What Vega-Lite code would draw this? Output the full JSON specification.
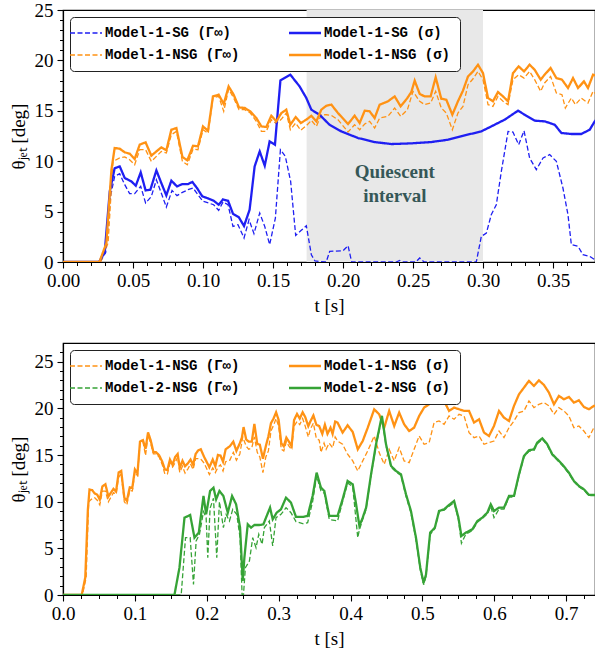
{
"$schema": "https://vega.github.io/schema/vega-lite/v6.json",
"background": "white",
"padding": {"left": 8, "top": 0, "right": 0, "bottom": 0},
"spacing": 26,
"config": {
  "view": {"stroke": "black", "strokeWidth": 1.2},
  "legend": {"labelFont": "Liberation Mono", "labelFontSize": 14, "labelFontWeight": "bold", "labelColor": "black", "labelOffset": 12, "rowPadding": 8, "columnPadding": 44, "padding": 9, "strokeColor": "#222222", "fillColor": "white", "cornerRadius": 4, "symbolType": "stroke", "symbolSize": 1024, "orient": "top-left", "offset": 7}
},
"datasets": {"d": [
{"s":"gSG","t":0,"v":0},{"s":"gSG","t":0.0265,"v":0},{"s":"gSG","t":0.0305,"v":0.95},{"s":"gSG","t":0.0339,"v":6.5},{"s":"gSG","t":0.0369,"v":8.5},{"s":"gSG","t":0.0405,"v":8.76},{"s":"gSG","t":0.0441,"v":7.67},{"s":"gSG","t":0.0476,"v":6.78},{"s":"gSG","t":0.0512,"v":6.78},{"s":"gSG","t":0.0555,"v":7.51},{"s":"gSG","t":0.059,"v":5.85},{"s":"gSG","t":0.0631,"v":6.5},{"s":"gSG","t":0.0667,"v":8.16},{"s":"gSG","t":0.0702,"v":6.84},{"s":"gSG","t":0.0738,"v":5.45},{"s":"gSG","t":0.0779,"v":7.1},{"s":"gSG","t":0.0814,"v":6.58},{"s":"gSG","t":0.0853,"v":6.91},{"s":"gSG","t":0.0893,"v":7.17},{"s":"gSG","t":0.0929,"v":7.34},{"s":"gSG","t":0.0964,"v":6.68},{"s":"gSG","t":0.1,"v":6.02},{"s":"gSG","t":0.104,"v":5.85},{"s":"gSG","t":0.1076,"v":5.68},{"s":"gSG","t":0.1112,"v":5.12},{"s":"gSG","t":0.1143,"v":5.95},{"s":"gSG","t":0.1179,"v":5.68},{"s":"gSG","t":0.1214,"v":3.53},{"s":"gSG","t":0.125,"v":3.7},{"s":"gSG","t":0.1293,"v":2.38},{"s":"gSG","t":0.1329,"v":4.2},{"s":"gSG","t":0.1364,"v":2.81},{"s":"gSG","t":0.1405,"v":4.86},{"s":"gSG","t":0.1441,"v":3.53},{"s":"gSG","t":0.1476,"v":1.72},{"s":"gSG","t":0.1517,"v":4.36},{"s":"gSG","t":0.1553,"v":11.14},{"s":"gSG","t":0.1588,"v":10.48},{"s":"gSG","t":0.1626,"v":8.0},{"s":"gSG","t":0.1662,"v":2.64},{"s":"gSG","t":0.1702,"v":3.14},{"s":"gSG","t":0.1738,"v":3.6},{"s":"gSG","t":0.1774,"v":0.72},{"s":"gSG","t":0.18,"v":0.1},{"s":"gSG","t":0.188,"v":0},{"s":"gSG","t":0.1905,"v":1.05},{"s":"gSG","t":0.2,"v":1.12},{"s":"gSG","t":0.2036,"v":1.62},{"s":"gSG","t":0.2062,"v":0},{"s":"gSG","t":0.238,"v":0},{"s":"gSG","t":0.2405,"v":0.15},{"s":"gSG","t":0.243,"v":0},{"s":"gSG","t":0.252,"v":0},{"s":"gSG","t":0.2548,"v":0.4},{"s":"gSG","t":0.258,"v":0},{"s":"gSG","t":0.2952,"v":0},{"s":"gSG","t":0.2988,"v":2.54},{"s":"gSG","t":0.3024,"v":2.87},{"s":"gSG","t":0.3059,"v":4.69},{"s":"gSG","t":0.3095,"v":5.68},{"s":"gSG","t":0.3131,"v":8.99},{"s":"gSG","t":0.3179,"v":12.96},{"s":"gSG","t":0.3214,"v":12.89},{"s":"gSG","t":0.3255,"v":11.64},{"s":"gSG","t":0.3293,"v":13.02},{"s":"gSG","t":0.3333,"v":10.32},{"s":"gSG","t":0.3381,"v":9.16},{"s":"gSG","t":0.3429,"v":10.32},{"s":"gSG","t":0.3476,"v":10.65},{"s":"gSG","t":0.3524,"v":9.98},{"s":"gSG","t":0.3571,"v":7.34},{"s":"gSG","t":0.3607,"v":4.69},{"s":"gSG","t":0.3631,"v":1.72},{"s":"gSG","t":0.3679,"v":1.55},{"s":"gSG","t":0.3714,"v":0.72},{"s":"gSG","t":0.3762,"v":0.56},{"s":"gSG","t":0.3798,"v":0.23},{"s":"gSG","t":0.383,"v":0.1},

{"s":"gN1","t":0,"v":0},{"s":"gN1","t":0.027,"v":0},{"s":"gN1","t":0.0322,"v":1.88},{"s":"gN1","t":0.0357,"v":9.98},{"s":"gN1","t":0.0405,"v":10.32},{"s":"gN1","t":0.0441,"v":10.42},{"s":"gN1","t":0.0476,"v":10.15},{"s":"gN1","t":0.0512,"v":9.65},{"s":"gN1","t":0.0548,"v":11.14},{"s":"gN1","t":0.059,"v":11.14},{"s":"gN1","t":0.0631,"v":9.98},{"s":"gN1","t":0.0667,"v":10.48},{"s":"gN1","t":0.0702,"v":10.97},{"s":"gN1","t":0.0738,"v":10.81},{"s":"gN1","t":0.0774,"v":12.63},{"s":"gN1","t":0.081,"v":12.96},{"s":"gN1","t":0.0853,"v":9.98},{"s":"gN1","t":0.0888,"v":9.65},{"s":"gN1","t":0.0929,"v":11.2},{"s":"gN1","t":0.0964,"v":11.14},{"s":"gN1","t":0.1,"v":13.12},{"s":"gN1","t":0.1036,"v":12.79},{"s":"gN1","t":0.1071,"v":16.27},{"s":"gN1","t":0.1112,"v":16.43},{"s":"gN1","t":0.1148,"v":14.95},{"s":"gN1","t":0.1183,"v":17.16},{"s":"gN1","t":0.1219,"v":16.27},{"s":"gN1","t":0.1257,"v":15.11},{"s":"gN1","t":0.1298,"v":15.11},{"s":"gN1","t":0.1338,"v":14.78},{"s":"gN1","t":0.1381,"v":13.95},{"s":"gN1","t":0.1417,"v":12.96},{"s":"gN1","t":0.1452,"v":12.96},{"s":"gN1","t":0.1488,"v":14.12},{"s":"gN1","t":0.1524,"v":13.72},{"s":"gN1","t":0.156,"v":14.18},{"s":"gN1","t":0.1595,"v":14.78},{"s":"gN1","t":0.1624,"v":13.12},{"s":"gN1","t":0.1662,"v":13.79},{"s":"gN1","t":0.1698,"v":13.06},{"s":"gN1","t":0.1738,"v":13.52},{"s":"gN1","t":0.1774,"v":14.05},{"s":"gN1","t":0.181,"v":13.45},{"s":"gN1","t":0.1845,"v":14.61},{"s":"gN1","t":0.1881,"v":14.61},{"s":"gN1","t":0.1917,"v":14.55},{"s":"gN1","t":0.1964,"v":14.12},{"s":"gN1","t":0.2036,"v":12.9},{"s":"gN1","t":0.2083,"v":13.62},{"s":"gN1","t":0.2119,"v":13.12},{"s":"gN1","t":0.2155,"v":13.69},{"s":"gN1","t":0.219,"v":13.95},{"s":"gN1","t":0.2226,"v":13.29},{"s":"gN1","t":0.2262,"v":14.28},{"s":"gN1","t":0.2321,"v":14.45},{"s":"gN1","t":0.2369,"v":15.28},{"s":"gN1","t":0.2412,"v":14.45},{"s":"gN1","t":0.246,"v":15.11},{"s":"gN1","t":0.25,"v":16.93},{"s":"gN1","t":0.2548,"v":15.94},{"s":"gN1","t":0.2583,"v":15.61},{"s":"gN1","t":0.2626,"v":15.77},{"s":"gN1","t":0.2662,"v":16.93},{"s":"gN1","t":0.2702,"v":15.28},{"s":"gN1","t":0.2738,"v":14.78},{"s":"gN1","t":0.2781,"v":13.12},{"s":"gN1","t":0.2821,"v":14.78},{"s":"gN1","t":0.2857,"v":15.44},{"s":"gN1","t":0.2893,"v":17.59},{"s":"gN1","t":0.2929,"v":18.18},{"s":"gN1","t":0.2964,"v":18.91},{"s":"gN1","t":0.3,"v":18.09},{"s":"gN1","t":0.3036,"v":15.61},{"s":"gN1","t":0.3071,"v":15.44},{"s":"gN1","t":0.3107,"v":16.43},{"s":"gN1","t":0.3143,"v":15.94},{"s":"gN1","t":0.3179,"v":15.61},{"s":"gN1","t":0.3214,"v":18.09},{"s":"gN1","t":0.3255,"v":18.58},{"s":"gN1","t":0.3293,"v":18.25},{"s":"gN1","t":0.3333,"v":18.91},{"s":"gN1","t":0.3369,"v":18.09},{"s":"gN1","t":0.3412,"v":16.93},{"s":"gN1","t":0.344,"v":17.76},{"s":"gN1","t":0.3483,"v":18.41},{"s":"gN1","t":0.3524,"v":16.76},{"s":"gN1","t":0.3564,"v":16.6},{"s":"gN1","t":0.3588,"v":15.28},{"s":"gN1","t":0.3631,"v":16.27},{"s":"gN1","t":0.366,"v":15.61},{"s":"gN1","t":0.3702,"v":16.27},{"s":"gN1","t":0.375,"v":15.77},{"s":"gN1","t":0.3786,"v":16.93},{"s":"gN1","t":0.3819,"v":16.5},{"s":"gN1","t":0.3889,"v":16.15},{"s":"gN1","t":0.3959,"v":15.08},{"s":"gN1","t":0.403,"v":14.37},{"s":"gN1","t":0.41,"v":13.29},{"s":"gN1","t":0.4169,"v":14.37},{"s":"gN1","t":0.4239,"v":15.44},{"s":"gN1","t":0.4329,"v":17.04},{"s":"gN1","t":0.4398,"v":15.26},{"s":"gN1","t":0.4468,"v":14.0},{"s":"gN1","t":0.4537,"v":15.61},{"s":"gN1","t":0.4607,"v":14.37},{"s":"gN1","t":0.4676,"v":15.79},{"s":"gN1","t":0.4745,"v":14.37},{"s":"gN1","t":0.4815,"v":14.19},{"s":"gN1","t":0.4884,"v":15.61},{"s":"gN1","t":0.4954,"v":17.04},{"s":"gN1","t":0.5023,"v":16.15},{"s":"gN1","t":0.5093,"v":16.33},{"s":"gN1","t":0.5162,"v":18.47},{"s":"gN1","t":0.5231,"v":18.65},{"s":"gN1","t":0.5301,"v":18.29},{"s":"gN1","t":0.537,"v":19.18},{"s":"gN1","t":0.544,"v":18.83},{"s":"gN1","t":0.5509,"v":19.36},{"s":"gN1","t":0.5579,"v":19.18},{"s":"gN1","t":0.5648,"v":17.4},{"s":"gN1","t":0.5718,"v":16.86},{"s":"gN1","t":0.5787,"v":17.04},{"s":"gN1","t":0.5856,"v":16.15},{"s":"gN1","t":0.5926,"v":16.33},{"s":"gN1","t":0.5995,"v":16.5},{"s":"gN1","t":0.6065,"v":17.57},{"s":"gN1","t":0.6134,"v":16.86},{"s":"gN1","t":0.6204,"v":17.93},{"s":"gN1","t":0.6273,"v":18.65},{"s":"gN1","t":0.6343,"v":19.54},{"s":"gN1","t":0.6412,"v":19.72},{"s":"gN1","t":0.6481,"v":20.79},{"s":"gN1","t":0.6551,"v":20.08},{"s":"gN1","t":0.662,"v":20.43},{"s":"gN1","t":0.669,"v":20.61},{"s":"gN1","t":0.6759,"v":20.26},{"s":"gN1","t":0.6829,"v":19.36},{"s":"gN1","t":0.6898,"v":20.08},{"s":"gN1","t":0.6968,"v":19.72},{"s":"gN1","t":0.7037,"v":19.18},{"s":"gN1","t":0.7106,"v":17.93},{"s":"gN1","t":0.7176,"v":18.11},{"s":"gN1","t":0.7245,"v":17.57},{"s":"gN1","t":0.7315,"v":16.86},{"s":"gN1","t":0.7384,"v":17.93},{"s":"gN1","t":0.743,"v":18.0},

{"s":"gN2","t":0,"v":0},{"s":"gN2","t":0.1644,"v":0},{"s":"gN2","t":0.1704,"v":6.14},{"s":"gN2","t":0.1769,"v":6.14},{"s":"gN2","t":0.1815,"v":1.14},{"s":"gN2","t":0.1852,"v":5.79},{"s":"gN2","t":0.1898,"v":6.5},{"s":"gN2","t":0.1954,"v":8.93},{"s":"gN2","t":0.1991,"v":8.29},{"s":"gN2","t":0.2014,"v":4.0},{"s":"gN2","t":0.2046,"v":9.29},{"s":"gN2","t":0.2093,"v":10.36},{"s":"gN2","t":0.2139,"v":4.0},{"s":"gN2","t":0.2176,"v":10.0},{"s":"gN2","t":0.2231,"v":7.22},{"s":"gN2","t":0.2269,"v":8.64},{"s":"gN2","t":0.2315,"v":7.93},{"s":"gN2","t":0.2361,"v":9.18},{"s":"gN2","t":0.2417,"v":8.64},{"s":"gN2","t":0.2463,"v":6.14},{"s":"gN2","t":0.2491,"v":0.07},{"s":"gN2","t":0.251,"v":0},{"s":"gN2","t":0.2537,"v":2.93},{"s":"gN2","t":0.2593,"v":3.64},{"s":"gN2","t":0.2639,"v":6.14},{"s":"gN2","t":0.2685,"v":5.07},{"s":"gN2","t":0.2723,"v":6.5},{"s":"gN2","t":0.2769,"v":5.43},{"s":"gN2","t":0.2801,"v":7.22},{"s":"gN2","t":0.287,"v":7.93},{"s":"gN2","t":0.2917,"v":5.25},{"s":"gN2","t":0.2963,"v":8.29},{"s":"gN2","t":0.3032,"v":8.64},{"s":"gN2","t":0.3102,"v":9.36},{"s":"gN2","t":0.3171,"v":8.82},{"s":"gN2","t":0.3241,"v":7.86},{"s":"gN2","t":0.3333,"v":7.64},{"s":"gN2","t":0.3403,"v":7.75},{"s":"gN2","t":0.3472,"v":10.0},{"s":"gN2","t":0.3528,"v":12.75},{"s":"gN2","t":0.3588,"v":11.15},{"s":"gN2","t":0.3635,"v":10.9},{"s":"gN2","t":0.3704,"v":8.1},{"s":"gN2","t":0.3819,"v":7.93},{"s":"gN2","t":0.3889,"v":10.0},{"s":"gN2","t":0.3959,"v":12.0},{"s":"gN2","t":0.403,"v":11.6},{"s":"gN2","t":0.41,"v":6.14},{"s":"gN2","t":0.4123,"v":7.0},{"s":"gN2","t":0.4169,"v":8.1},{"s":"gN2","t":0.4216,"v":9.2},{"s":"gN2","t":0.4285,"v":12.8},{"s":"gN2","t":0.4354,"v":16.0},{"s":"gN2","t":0.4436,"v":19.0},{"s":"gN2","t":0.4493,"v":16.0},{"s":"gN2","t":0.4563,"v":13.7},{"s":"gN2","t":0.4632,"v":13.2},{"s":"gN2","t":0.4701,"v":12.8},{"s":"gN2","t":0.4771,"v":10.6},{"s":"gN2","t":0.484,"v":8.8},{"s":"gN2","t":0.491,"v":5.9},{"s":"gN2","t":0.497,"v":2.7},{"s":"gN2","t":0.5016,"v":1.1},{"s":"gN2","t":0.5049,"v":2.0},{"s":"gN2","t":0.5107,"v":6.5},{"s":"gN2","t":0.5172,"v":7.1},{"s":"gN2","t":0.5231,"v":8.9},{"s":"gN2","t":0.5301,"v":9.1},{"s":"gN2","t":0.537,"v":9.5},{"s":"gN2","t":0.544,"v":9.9},{"s":"gN2","t":0.55,"v":8.1},{"s":"gN2","t":0.5542,"v":5.54},{"s":"gN2","t":0.5602,"v":6.5},{"s":"gN2","t":0.5694,"v":6.9},{"s":"gN2","t":0.5764,"v":7.8},{"s":"gN2","t":0.5833,"v":8.2},{"s":"gN2","t":0.5903,"v":8.7},{"s":"gN2","t":0.595,"v":9.5},{"s":"gN2","t":0.5995,"v":8.29},{"s":"gN2","t":0.6065,"v":9.2},{"s":"gN2","t":0.6134,"v":9.2},{"s":"gN2","t":0.6204,"v":10.5},{"s":"gN2","t":0.6273,"v":10.5},{"s":"gN2","t":0.6343,"v":12.8},{"s":"gN2","t":0.6412,"v":14.8},{"s":"gN2","t":0.6481,"v":15.4},{"s":"gN2","t":0.6551,"v":15.5},{"s":"gN2","t":0.6597,"v":16.2},{"s":"gN2","t":0.6667,"v":16.7},{"s":"gN2","t":0.6736,"v":16.05},{"s":"gN2","t":0.6806,"v":15.0},{"s":"gN2","t":0.6875,"v":14.45},{"s":"gN2","t":0.6944,"v":13.9},{"s":"gN2","t":0.7037,"v":13.0},{"s":"gN2","t":0.7106,"v":12.15},{"s":"gN2","t":0.7176,"v":11.6},{"s":"gN2","t":0.7245,"v":11.25},{"s":"gN2","t":0.7315,"v":10.65},{"s":"gN2","t":0.7384,"v":10.65},{"s":"gN2","t":0.743,"v":10.65},

{"s":"sSG","t":0,"v":0},{"s":"sSG","t":0.0257,"v":0},{"s":"sSG","t":0.0298,"v":0.95},{"s":"sSG","t":0.0334,"v":7.0},{"s":"sSG","t":0.0369,"v":9.3},{"s":"sSG","t":0.0405,"v":9.49},{"s":"sSG","t":0.0441,"v":8.33},{"s":"sSG","t":0.0488,"v":8.0},{"s":"sSG","t":0.052,"v":7.57},{"s":"sSG","t":0.0555,"v":8.89},{"s":"sSG","t":0.059,"v":7.1},{"s":"sSG","t":0.0624,"v":7.17},{"s":"sSG","t":0.0667,"v":9.09},{"s":"sSG","t":0.0702,"v":7.84},{"s":"sSG","t":0.0738,"v":6.61},{"s":"sSG","t":0.0774,"v":8.07},{"s":"sSG","t":0.0814,"v":7.5},{"s":"sSG","t":0.0853,"v":7.73},{"s":"sSG","t":0.0893,"v":7.73},{"s":"sSG","t":0.0924,"v":7.94},{"s":"sSG","t":0.0957,"v":7.34},{"s":"sSG","t":0.0995,"v":6.51},{"s":"sSG","t":0.1036,"v":6.31},{"s":"sSG","t":0.1076,"v":6.08},{"s":"sSG","t":0.1112,"v":5.68},{"s":"sSG","t":0.1143,"v":6.21},{"s":"sSG","t":0.1179,"v":6.08},{"s":"sSG","t":0.1214,"v":4.79},{"s":"sSG","t":0.1255,"v":4.46},{"s":"sSG","t":0.1293,"v":3.57},{"s":"sSG","t":0.1333,"v":5.19},{"s":"sSG","t":0.1369,"v":9.49},{"s":"sSG","t":0.1405,"v":10.97},{"s":"sSG","t":0.1441,"v":9.55},{"s":"sSG","t":0.1476,"v":11.97},{"s":"sSG","t":0.1514,"v":11.64},{"s":"sSG","t":0.1553,"v":18.02},{"s":"sSG","t":0.1624,"v":18.58},{"s":"sSG","t":0.169,"v":17.42},{"s":"sSG","t":0.1738,"v":16.27},{"s":"sSG","t":0.1774,"v":15.11},{"s":"sSG","t":0.1833,"v":14.6},{"s":"sSG","t":0.1905,"v":13.6},{"s":"sSG","t":0.1988,"v":12.96},{"s":"sSG","t":0.2107,"v":12.3},{"s":"sSG","t":0.2226,"v":11.9},{"s":"sSG","t":0.2345,"v":11.7},{"s":"sSG","t":0.2488,"v":11.77},{"s":"sSG","t":0.263,"v":11.9},{"s":"sSG","t":0.275,"v":12.13},{"s":"sSG","t":0.2869,"v":12.56},{"s":"sSG","t":0.2988,"v":12.96},{"s":"sSG","t":0.3059,"v":13.45},{"s":"sSG","t":0.3155,"v":14.12},{"s":"sSG","t":0.325,"v":15.01},{"s":"sSG","t":0.3298,"v":14.61},{"s":"sSG","t":0.337,"v":14.02},{"s":"sSG","t":0.3441,"v":13.95},{"s":"sSG","t":0.3512,"v":13.62},{"s":"sSG","t":0.356,"v":12.8},{"s":"sSG","t":0.3631,"v":12.7},{"s":"sSG","t":0.3702,"v":12.7},{"s":"sSG","t":0.3762,"v":13.12},{"s":"sSG","t":0.3798,"v":13.95},{"s":"sSG","t":0.382,"v":14.3},

{"s":"sN1","t":0,"v":0},{"s":"sN1","t":0.026,"v":0},{"s":"sN1","t":0.031,"v":1.88},{"s":"sN1","t":0.0346,"v":9.16},{"s":"sN1","t":0.0369,"v":11.31},{"s":"sN1","t":0.0405,"v":11.24},{"s":"sN1","t":0.0441,"v":10.88},{"s":"sN1","t":0.0476,"v":10.75},{"s":"sN1","t":0.0512,"v":10.22},{"s":"sN1","t":0.0548,"v":11.64},{"s":"sN1","t":0.059,"v":11.87},{"s":"sN1","t":0.0631,"v":10.55},{"s":"sN1","t":0.0667,"v":10.97},{"s":"sN1","t":0.0702,"v":11.37},{"s":"sN1","t":0.0738,"v":11.08},{"s":"sN1","t":0.0774,"v":13.12},{"s":"sN1","t":0.081,"v":13.29},{"s":"sN1","t":0.0853,"v":10.42},{"s":"sN1","t":0.0888,"v":10.09},{"s":"sN1","t":0.0929,"v":11.54},{"s":"sN1","t":0.0964,"v":11.47},{"s":"sN1","t":0.1,"v":13.45},{"s":"sN1","t":0.1036,"v":13.02},{"s":"sN1","t":0.1071,"v":16.43},{"s":"sN1","t":0.1112,"v":16.6},{"s":"sN1","t":0.1148,"v":15.67},{"s":"sN1","t":0.1183,"v":17.42},{"s":"sN1","t":0.1219,"v":16.6},{"s":"sN1","t":0.1257,"v":15.34},{"s":"sN1","t":0.1298,"v":15.28},{"s":"sN1","t":0.1338,"v":14.95},{"s":"sN1","t":0.1381,"v":14.28},{"s":"sN1","t":0.1417,"v":13.45},{"s":"sN1","t":0.1452,"v":13.39},{"s":"sN1","t":0.1488,"v":14.51},{"s":"sN1","t":0.1524,"v":13.95},{"s":"sN1","t":0.156,"v":14.78},{"s":"sN1","t":0.1595,"v":15.11},{"s":"sN1","t":0.1624,"v":13.62},{"s":"sN1","t":0.1662,"v":14.38},{"s":"sN1","t":0.1698,"v":13.79},{"s":"sN1","t":0.1738,"v":14.12},{"s":"sN1","t":0.1774,"v":14.51},{"s":"sN1","t":0.181,"v":13.95},{"s":"sN1","t":0.1845,"v":15.11},{"s":"sN1","t":0.1881,"v":15.5},{"s":"sN1","t":0.1917,"v":15.61},{"s":"sN1","t":0.1964,"v":14.78},{"s":"sN1","t":0.2036,"v":13.69},{"s":"sN1","t":0.2083,"v":14.51},{"s":"sN1","t":0.2119,"v":13.79},{"s":"sN1","t":0.2155,"v":15.01},{"s":"sN1","t":0.219,"v":14.95},{"s":"sN1","t":0.2226,"v":14.28},{"s":"sN1","t":0.2262,"v":15.61},{"s":"sN1","t":0.2321,"v":15.94},{"s":"sN1","t":0.2369,"v":16.43},{"s":"sN1","t":0.2412,"v":15.44},{"s":"sN1","t":0.246,"v":16.27},{"s":"sN1","t":0.2488,"v":16.86},{"s":"sN1","t":0.2512,"v":17.99},{"s":"sN1","t":0.2548,"v":16.67},{"s":"sN1","t":0.2583,"v":16.43},{"s":"sN1","t":0.2626,"v":16.43},{"s":"sN1","t":0.2662,"v":18.32},{"s":"sN1","t":0.2702,"v":16.2},{"s":"sN1","t":0.2738,"v":16.1},{"s":"sN1","t":0.2781,"v":14.61},{"s":"sN1","t":0.2821,"v":15.94},{"s":"sN1","t":0.2857,"v":17.0},{"s":"sN1","t":0.2893,"v":18.41},{"s":"sN1","t":0.2929,"v":18.91},{"s":"sN1","t":0.2964,"v":19.57},{"s":"sN1","t":0.3,"v":18.74},{"s":"sN1","t":0.3036,"v":16.27},{"s":"sN1","t":0.3071,"v":15.94},{"s":"sN1","t":0.3107,"v":16.86},{"s":"sN1","t":0.3143,"v":16.43},{"s":"sN1","t":0.3179,"v":15.94},{"s":"sN1","t":0.3214,"v":18.74},{"s":"sN1","t":0.3255,"v":19.4},{"s":"sN1","t":0.3293,"v":18.91},{"s":"sN1","t":0.3333,"v":19.57},{"s":"sN1","t":0.3369,"v":19.07},{"s":"sN1","t":0.3412,"v":18.09},{"s":"sN1","t":0.344,"v":18.58},{"s":"sN1","t":0.3483,"v":19.24},{"s":"sN1","t":0.3524,"v":18.25},{"s":"sN1","t":0.3564,"v":18.09},{"s":"sN1","t":0.3607,"v":17.26},{"s":"sN1","t":0.3643,"v":18.25},{"s":"sN1","t":0.3679,"v":17.26},{"s":"sN1","t":0.3721,"v":17.92},{"s":"sN1","t":0.375,"v":17.26},{"s":"sN1","t":0.3786,"v":18.58},{"s":"sN1","t":0.3819,"v":18.47},{"s":"sN1","t":0.3889,"v":17.4},{"s":"sN1","t":0.3959,"v":18.18},{"s":"sN1","t":0.403,"v":17.47},{"s":"sN1","t":0.41,"v":15.61},{"s":"sN1","t":0.4169,"v":16.5},{"s":"sN1","t":0.4239,"v":17.93},{"s":"sN1","t":0.4329,"v":19.9},{"s":"sN1","t":0.4398,"v":19.36},{"s":"sN1","t":0.4468,"v":17.93},{"s":"sN1","t":0.4537,"v":19.72},{"s":"sN1","t":0.4607,"v":18.11},{"s":"sN1","t":0.4676,"v":19.54},{"s":"sN1","t":0.4745,"v":18.29},{"s":"sN1","t":0.4815,"v":17.57},{"s":"sN1","t":0.4884,"v":17.93},{"s":"sN1","t":0.4954,"v":19.18},{"s":"sN1","t":0.5023,"v":20.08},{"s":"sN1","t":0.5093,"v":20.43},{"s":"sN1","t":0.5162,"v":21.15},{"s":"sN1","t":0.5231,"v":21.33},{"s":"sN1","t":0.5301,"v":20.79},{"s":"sN1","t":0.537,"v":19.72},{"s":"sN1","t":0.544,"v":20.08},{"s":"sN1","t":0.5509,"v":19.9},{"s":"sN1","t":0.5579,"v":19.72},{"s":"sN1","t":0.5648,"v":19.72},{"s":"sN1","t":0.5718,"v":18.47},{"s":"sN1","t":0.5787,"v":18.83},{"s":"sN1","t":0.5856,"v":17.4},{"s":"sN1","t":0.5926,"v":17.04},{"s":"sN1","t":0.5995,"v":18.11},{"s":"sN1","t":0.6065,"v":19.72},{"s":"sN1","t":0.6134,"v":19.0},{"s":"sN1","t":0.6204,"v":18.65},{"s":"sN1","t":0.6273,"v":20.26},{"s":"sN1","t":0.6343,"v":21.51},{"s":"sN1","t":0.6412,"v":22.22},{"s":"sN1","t":0.6481,"v":22.94},{"s":"sN1","t":0.6551,"v":22.4},{"s":"sN1","t":0.662,"v":23.0},{"s":"sN1","t":0.669,"v":22.5},{"s":"sN1","t":0.6759,"v":21.69},{"s":"sN1","t":0.6829,"v":20.43},{"s":"sN1","t":0.6898,"v":21.33},{"s":"sN1","t":0.6968,"v":20.97},{"s":"sN1","t":0.7037,"v":21.22},{"s":"sN1","t":0.7106,"v":20.61},{"s":"sN1","t":0.7176,"v":20.86},{"s":"sN1","t":0.7245,"v":20.15},{"s":"sN1","t":0.7315,"v":19.9},{"s":"sN1","t":0.7384,"v":20.26},{"s":"sN1","t":0.743,"v":20.3},

{"s":"sN2","t":0,"v":0},{"s":"sN2","t":0.155,"v":0},{"s":"sN2","t":0.162,"v":2.93},{"s":"sN2","t":0.169,"v":8.29},{"s":"sN2","t":0.1769,"v":8.57},{"s":"sN2","t":0.1829,"v":6.14},{"s":"sN2","t":0.1889,"v":6.68},{"s":"sN2","t":0.1954,"v":10.61},{"s":"sN2","t":0.1991,"v":8.64},{"s":"sN2","t":0.2046,"v":11.15},{"s":"sN2","t":0.2093,"v":11.5},{"s":"sN2","t":0.213,"v":10.25},{"s":"sN2","t":0.2176,"v":11.15},{"s":"sN2","t":0.2231,"v":10.61},{"s":"sN2","t":0.2292,"v":8.82},{"s":"sN2","t":0.2352,"v":10.61},{"s":"sN2","t":0.2408,"v":9.72},{"s":"sN2","t":0.2463,"v":7.22},{"s":"sN2","t":0.25,"v":1.5},{"s":"sN2","t":0.2523,"v":4.0},{"s":"sN2","t":0.257,"v":7.57},{"s":"sN2","t":0.2616,"v":7.22},{"s":"sN2","t":0.2662,"v":7.5},{"s":"sN2","t":0.2732,"v":7.5},{"s":"sN2","t":0.2787,"v":7.57},{"s":"sN2","t":0.2824,"v":8.29},{"s":"sN2","t":0.288,"v":9.36},{"s":"sN2","t":0.2917,"v":8.11},{"s":"sN2","t":0.2972,"v":8.82},{"s":"sN2","t":0.3032,"v":9.18},{"s":"sN2","t":0.3102,"v":10.43},{"s":"sN2","t":0.3171,"v":9.9},{"s":"sN2","t":0.3241,"v":8.36},{"s":"sN2","t":0.3333,"v":8.36},{"s":"sN2","t":0.3403,"v":8.47},{"s":"sN2","t":0.3472,"v":10.61},{"s":"sN2","t":0.3528,"v":13.11},{"s":"sN2","t":0.3588,"v":11.5},{"s":"sN2","t":0.3635,"v":11.15},{"s":"sN2","t":0.3704,"v":8.47},{"s":"sN2","t":0.3819,"v":8.47},{"s":"sN2","t":0.3889,"v":10.25},{"s":"sN2","t":0.3959,"v":12.22},{"s":"sN2","t":0.403,"v":11.86},{"s":"sN2","t":0.4077,"v":9.72},{"s":"sN2","t":0.4123,"v":7.4},{"s":"sN2","t":0.4169,"v":8.29},{"s":"sN2","t":0.4216,"v":9.36},{"s":"sN2","t":0.4285,"v":12.93},{"s":"sN2","t":0.4354,"v":16.15},{"s":"sN2","t":0.4436,"v":19.2},{"s":"sN2","t":0.4493,"v":16.15},{"s":"sN2","t":0.4563,"v":13.83},{"s":"sN2","t":0.4632,"v":13.29},{"s":"sN2","t":0.4701,"v":12.93},{"s":"sN2","t":0.4771,"v":10.79},{"s":"sN2","t":0.484,"v":9.0},{"s":"sN2","t":0.491,"v":6.14},{"s":"sN2","t":0.497,"v":2.93},{"s":"sN2","t":0.5016,"v":1.32},{"s":"sN2","t":0.5049,"v":2.18},{"s":"sN2","t":0.5107,"v":6.68},{"s":"sN2","t":0.5172,"v":7.22},{"s":"sN2","t":0.5231,"v":9.0},{"s":"sN2","t":0.5301,"v":9.18},{"s":"sN2","t":0.537,"v":9.65},{"s":"sN2","t":0.544,"v":10.08},{"s":"sN2","t":0.55,"v":8.29},{"s":"sN2","t":0.5542,"v":6.32},{"s":"sN2","t":0.5602,"v":6.68},{"s":"sN2","t":0.5694,"v":7.04},{"s":"sN2","t":0.5764,"v":7.93},{"s":"sN2","t":0.5833,"v":8.29},{"s":"sN2","t":0.5903,"v":8.83},{"s":"sN2","t":0.595,"v":9.72},{"s":"sN2","t":0.5995,"v":9.0},{"s":"sN2","t":0.6065,"v":9.36},{"s":"sN2","t":0.6134,"v":9.36},{"s":"sN2","t":0.6204,"v":10.61},{"s":"sN2","t":0.6273,"v":10.61},{"s":"sN2","t":0.6343,"v":12.93},{"s":"sN2","t":0.6412,"v":14.9},{"s":"sN2","t":0.6481,"v":15.51},{"s":"sN2","t":0.6551,"v":15.61},{"s":"sN2","t":0.6597,"v":16.33},{"s":"sN2","t":0.6667,"v":16.79},{"s":"sN2","t":0.6736,"v":16.15},{"s":"sN2","t":0.6806,"v":15.08},{"s":"sN2","t":0.6875,"v":14.55},{"s":"sN2","t":0.6944,"v":14.0},{"s":"sN2","t":0.7037,"v":13.11},{"s":"sN2","t":0.7106,"v":12.22},{"s":"sN2","t":0.7176,"v":11.68},{"s":"sN2","t":0.7245,"v":11.33},{"s":"sN2","t":0.7315,"v":10.72},{"s":"sN2","t":0.7384,"v":10.72},{"s":"sN2","t":0.743,"v":10.72}
]},
"vconcat": [
{
  "width": 532, "height": 252,
  "layer": [
    {"data": {"values": [{"a": 0.174, "b": 0.3}]}, "mark": {"type": "rect", "color": "#e8e8e8"},
     "encoding": {"x": {"field": "a", "type": "quantitative", "axis": null, "scale": {"domain": [0, 0.38], "nice": false, "zero": false}}, "x2": {"field": "b"}}},
    {"data": {"values": [{"t": 0.237, "v": 8.9, "l": "Quiescent"}, {"t": 0.237, "v": 6.5, "l": "interval"}]},
     "mark": {"type": "text", "font": "Liberation Serif", "fontSize": 19, "fontWeight": "bold", "color": "#355757"},
     "encoding": {"x": {"field": "t", "type": "quantitative", "axis": null}, "y": {"field": "v", "type": "quantitative", "axis": null}, "text": {"field": "l"}}},
    {"data": {"name": "d"}, "transform": [{"filter": {"field": "s", "oneOf": ["gSG", "gN1"]}}],
     "mark": {"type": "line", "clip": true, "strokeWidth": 1.3},
     "encoding": {
       "x": {"field": "t", "type": "quantitative", "scale": {"domain": [0, 0.38], "nice": false, "zero": false},
             "axis": {"orient": "bottom", "values": [0.01,0.02,0.03,0.04,0.06,0.07,0.08,0.09,0.11,0.12,0.13,0.14,0.16,0.17,0.18,0.19,0.21,0.22,0.23,0.24,0.26,0.27,0.28,0.29,0.31,0.32,0.33,0.34,0.36,0.37], "labels": false, "domain": false, "grid": false, "tickSize": 3.5, "tickColor": "black", "tickWidth": 1, "title": null}},
       "y": {"field": "v", "type": "quantitative", "scale": {"domain": [0, 25], "nice": false},
             "axis": {"orient": "left", "values": [1,2,3,4,6,7,8,9,11,12,13,14,16,17,18,19,21,22,23,24], "labels": false, "domain": false, "grid": false, "tickSize": 3.5, "tickColor": "black", "tickWidth": 1, "title": null}},
       "color": {"field": "s", "type": "nominal", "scale": {"domain": ["gSG", "gN1", "sSG", "sN1"], "range": ["#1f1ff2", "#ff9214", "#1f1ff2", "#ff9214"]},
                 "legend": {"title": null, "columns": 2, "labelExpr": "datum.label=='gSG'?'Model-1-SG (Γ∞)':datum.label=='sSG'?'Model-1-SG (σ)':datum.label=='gN1'?'Model-1-NSG (Γ∞)':'Model-1-NSG (σ)'", "encode": {"symbols": {"update": {"strokeWidth": {"signal": "substring(datum.value,0,1)=='g'?1.3:2.3"}}}}}},
       "strokeDash": {"field": "s", "type": "nominal", "scale": {"domain": ["gSG", "gN1", "sSG", "sN1"], "range": [[5, 2.5], [5, 2.5], [1, 0], [1, 0]]},
                 "legend": {"title": null, "columns": 2, "labelExpr": "datum.label=='gSG'?'Model-1-SG (Γ∞)':datum.label=='sSG'?'Model-1-SG (σ)':datum.label=='gN1'?'Model-1-NSG (Γ∞)':'Model-1-NSG (σ)'", "encode": {"symbols": {"update": {"strokeWidth": {"signal": "substring(datum.value,0,1)=='g'?1.3:2.3"}}}}}}
     }},
    {"data": {"name": "d"}, "transform": [{"filter": {"field": "s", "oneOf": ["sSG", "sN1"]}}],
     "mark": {"type": "line", "clip": true, "strokeWidth": 2.3},
     "encoding": {
       "x": {"field": "t", "type": "quantitative",
             "axis": {"orient": "bottom", "values": [0, 0.05, 0.1, 0.15, 0.2, 0.25, 0.3, 0.35], "format": ".2f", "grid": false, "tickSize": 6, "tickColor": "black", "tickWidth": 1.1, "domainColor": "black", "domainWidth": 1.2, "labelFont": "Liberation Serif", "labelFontSize": 19, "labelColor": "black", "labelPadding": 3, "labelFlush": false, "labelOverlap": false, "title": "t [s]", "titleFont": "Liberation Serif", "titleFontSize": 19, "titleFontWeight": "normal", "titleColor": "black", "titlePadding": 6}},
       "y": {"field": "v", "type": "quantitative",
             "axis": {"orient": "left", "values": [0, 5, 10, 15, 20, 25], "grid": false, "tickSize": 6, "tickColor": "black", "tickWidth": 1.1, "domainColor": "black", "domainWidth": 1.2, "labelFont": "Liberation Serif", "labelFontSize": 19, "labelColor": "black", "labelPadding": 4, "labelFlush": false, "labelOverlap": false, "title": "θⱼₑₜ [deg]", "titleFont": "Liberation Serif", "titleFontSize": 19, "titleFontWeight": "normal", "titleColor": "black", "titlePadding": 6}},
       "color": {"field": "s", "type": "nominal"},
       "strokeDash": {"field": "s", "type": "nominal"}
     }}
  ],
  "resolve": {"axis": {"x": "independent", "y": "independent"}}
},
{
  "width": 532, "height": 252,
  "layer": [
    {"data": {"name": "d"}, "transform": [{"filter": {"field": "s", "oneOf": ["gN1", "gN2"]}}],
     "mark": {"type": "line", "clip": true, "strokeWidth": 1.3},
     "encoding": {
       "x": {"field": "t", "type": "quantitative", "scale": {"domain": [0, 0.74], "nice": false, "zero": false},
             "axis": {"orient": "bottom", "values": [0.025,0.05,0.075,0.125,0.15,0.175,0.225,0.25,0.275,0.325,0.35,0.375,0.425,0.45,0.475,0.525,0.55,0.575,0.625,0.65,0.675,0.725], "labels": false, "domain": false, "grid": false, "tickSize": 3.5, "tickColor": "black", "tickWidth": 1, "title": null}},
       "y": {"field": "v", "type": "quantitative", "scale": {"domain": [0, 27], "nice": false},
             "axis": {"orient": "left", "values": [1,2,3,4,6,7,8,9,11,12,13,14,16,17,18,19,21,22,23,24,26], "labels": false, "domain": false, "grid": false, "tickSize": 3.5, "tickColor": "black", "tickWidth": 1, "title": null}},
       "color": {"field": "s", "type": "nominal", "scale": {"domain": ["gN1", "gN2", "sN1", "sN2"], "range": ["#ff9214", "#36a336", "#ff9214", "#36a336"]},
                 "legend": {"title": null, "columns": 2, "labelExpr": "datum.label=='gN1'?'Model-1-NSG (Γ∞)':datum.label=='sN1'?'Model-1-NSG (σ)':datum.label=='gN2'?'Model-2-NSG (Γ∞)':'Model-2-NSG (σ)'", "encode": {"symbols": {"update": {"strokeWidth": {"signal": "substring(datum.value,0,1)=='g'?1.3:2.3"}}}}}},
       "strokeDash": {"field": "s", "type": "nominal", "scale": {"domain": ["gN1", "gN2", "sN1", "sN2"], "range": [[5, 2.5], [5, 2.5], [1, 0], [1, 0]]},
                 "legend": {"title": null, "columns": 2, "labelExpr": "datum.label=='gN1'?'Model-1-NSG (Γ∞)':datum.label=='sN1'?'Model-1-NSG (σ)':datum.label=='gN2'?'Model-2-NSG (Γ∞)':'Model-2-NSG (σ)'", "encode": {"symbols": {"update": {"strokeWidth": {"signal": "substring(datum.value,0,1)=='g'?1.3:2.3"}}}}}}
     }},
    {"data": {"name": "d"}, "transform": [{"filter": {"field": "s", "oneOf": ["sN1", "sN2"]}}],
     "mark": {"type": "line", "clip": true, "strokeWidth": 2.3},
     "encoding": {
       "x": {"field": "t", "type": "quantitative",
             "axis": {"orient": "bottom", "values": [0, 0.1, 0.2, 0.3, 0.4, 0.5, 0.6, 0.7], "format": ".1f", "grid": false, "tickSize": 6, "tickColor": "black", "tickWidth": 1.1, "domainColor": "black", "domainWidth": 1.2, "labelFont": "Liberation Serif", "labelFontSize": 19, "labelColor": "black", "labelPadding": 3, "labelFlush": false, "labelOverlap": false, "title": "t [s]", "titleFont": "Liberation Serif", "titleFontSize": 19, "titleFontWeight": "normal", "titleColor": "black", "titlePadding": 6}},
       "y": {"field": "v", "type": "quantitative",
             "axis": {"orient": "left", "values": [0, 5, 10, 15, 20, 25], "grid": false, "tickSize": 6, "tickColor": "black", "tickWidth": 1.1, "domainColor": "black", "domainWidth": 1.2, "labelFont": "Liberation Serif", "labelFontSize": 19, "labelColor": "black", "labelPadding": 4, "labelFlush": false, "labelOverlap": false, "title": "θⱼₑₜ [deg]", "titleFont": "Liberation Serif", "titleFontSize": 19, "titleFontWeight": "normal", "titleColor": "black", "titlePadding": 6}},
       "color": {"field": "s", "type": "nominal"},
       "strokeDash": {"field": "s", "type": "nominal"}
     }}
  ],
  "resolve": {"axis": {"x": "independent", "y": "independent"}}
}
],
"resolve": {"scale": {"x": "independent", "y": "independent", "color": "independent", "strokeDash": "independent"}}
}
